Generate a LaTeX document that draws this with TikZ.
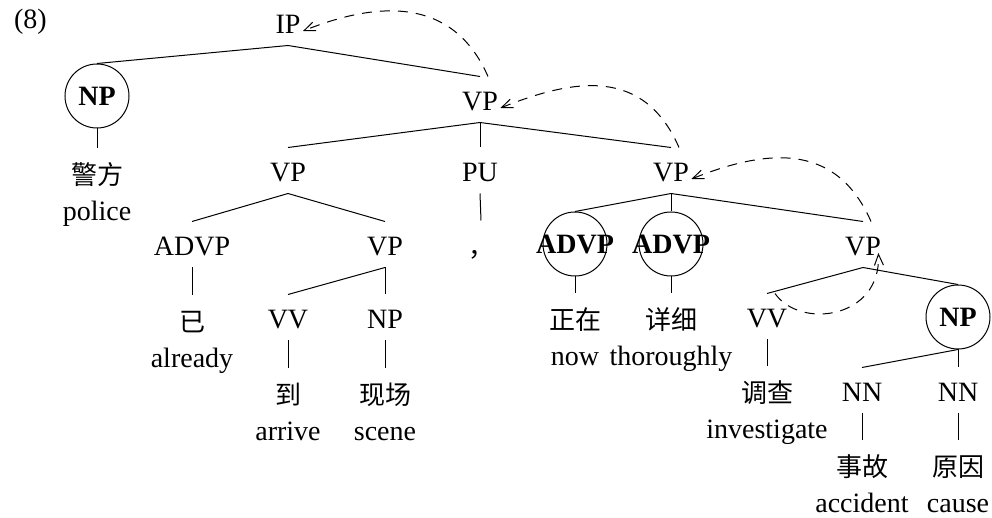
\documentclass[tikz,border=0pt]{standalone}
\usepackage{fontspec}
\setmainfont{Liberation Serif}
\newfontfamily\cjk{Noto Sans CJK SC}
\usetikzlibrary{positioning,arrows.meta}
\tikzset{
  cat/.style={anchor=base,font=\fontsize{14}{16}\selectfont,inner xsep=0pt,inner ysep=4pt,text height=13pt,text depth=1.5pt},
  ring/.style={draw,circle,minimum size=32pt,inner sep=0pt,label={center:\fontsize{14}{16}\selectfont\bfseries #1}},
  word/.style={font=\fontsize{13}{15}\selectfont\cjk,inner xsep=0pt,inner ysep=6.5pt,text height=11.44pt,text depth=1.56pt},
  gloss/.style={below=9.5pt of #1,anchor=base,font=\fontsize{14}{16}\selectfont,inner sep=0pt},
  move/.style={dash pattern=on 5pt off 4pt,-{Straight Barb[length=5.5pt,width=4.5pt]}}
}
\begin{document}
\begin{tikzpicture}[x=0.5pt,y=-0.5pt,line width=0.5pt]
\useasboundingbox (0,0) rectangle (992,518);
\node[anchor=base west,font=\fontsize{14}{16}\selectfont] (ex) at (7,29) {(8)};

\node[cat] (ip) at (288,34) {IP};
\node[ring=NP] (np0) at (97,96) {};
\node[cat] (vp0) at (480,111) {VP};
\node[word] (w1) at (97,175) {警方};
\node[gloss=w1] (g1) {police};

\node[cat] (vp1) at (288,182) {VP};
\node[cat] (pu) at (480,182) {PU};
\node[cat] (vp2) at (671,182) {VP};
\node[word] (w2) at (481,247) {，};

\node[cat] (advp) at (192,256) {ADVP};
\node[cat] (vp3) at (385,256) {VP};
\node[word] (w3) at (192,322) {已};
\node[gloss=w3] (g3) {already};
\node[cat] (vv1) at (288,329) {VV};
\node[cat] (np1) at (385,329) {NP};
\node[word] (w6) at (288,395) {到};
\node[gloss=w6] (g6) {arrive};
\node[word] (w7) at (385,395) {现场};
\node[gloss=w7] (g7) {scene};

\node[ring=ADVP] (advp1) at (575,244) {};
\node[ring=ADVP] (advp2) at (671,244) {};
\node[cat] (vp4) at (863,256) {VP};
\node[word] (w4) at (575,320) {正在};
\node[gloss=w4] (g4) {now};
\node[word] (w5) at (671,320) {详细};
\node[gloss=w5] (g5) {thoroughly};
\node[cat] (vv2) at (767,328) {VV};
\node[ring=NP] (np2) at (958,317) {};
\node[word] (w8) at (767,393) {调查};
\node[gloss=w8] (g8) {investigate};
\node[cat] (nn1) at (862,402) {NN};
\node[cat] (nn2) at (958,402) {NN};
\node[word] (w9) at (862,467) {事故};
\node[gloss=w9] (g9) {accident};
\node[word] (w10) at (958,467) {原因};
\node[gloss=w10] (g10) {cause};

\foreach \a/\b in {ip/np0,ip/vp0,vp0/vp1,vp0/pu,vp0/vp2,vp1/advp,vp1/vp3,vp3/vv1,vp3/np1,
  vp2/advp1,vp2/advp2,vp2/vp4,vp4/vv2,vp4/np2,np2/nn1,np2/nn2,
  np0/w1,pu/w2,advp/w3,vv1/w6,np1/w7,advp1/w4,advp2/w5,vv2/w8,nn1/w9,nn2/w10}
  \draw (\a.south) -- (\b.north);

\draw[move] ([xshift=4pt]vp0.north) .. controls +(-35,-80) and +(75,-30) .. ([shift={(1pt,1.5pt)}]ip.base east);
\draw[move] ([xshift=4pt]vp2.north) .. controls +(-35,-80) and +(75,-30) .. ([shift={(1pt,1.5pt)}]vp0.base east);
\draw[move] ([xshift=4pt]vp4.north) .. controls +(-35,-80) and +(75,-30) .. ([shift={(1pt,1.5pt)}]vp2.base east);
\draw[move] ([xshift=4pt]vv2.north) .. controls +(25,36) and +(3,66) .. ([shift={(-1.5pt,1.5pt)}]vp4.base east);
\end{tikzpicture}
\end{document}
